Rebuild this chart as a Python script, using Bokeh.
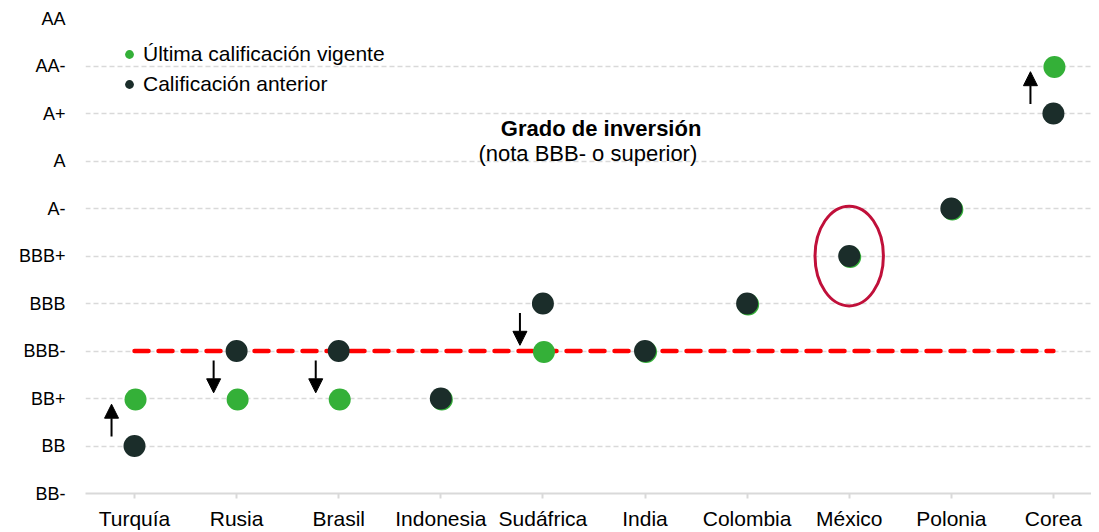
from bokeh.plotting import figure
from bokeh.models import (ColumnDataSource, FixedTicker, Legend, LegendItem, Arrow,
                          NormalHead, Label, Range1d)
from bokeh.transform import dodge
from bokeh.embed import file_html
from bokeh.resources import INLINE

# ---------------- data ----------------
paises = ["Turquía", "Rusia", "Brasil", "Indonesia", "Sudáfrica",
          "India", "Colombia", "México", "Polonia", "Corea"]
escala = ["BB-", "BB", "BB+", "BBB-", "BBB", "BBB+", "A-", "A", "A+", "AA-", "AA"]
ultima = ["BB+", "BB+", "BB+", "BB+", "BBB-", "BBB-", "BBB", "BBB+", "A-", "AA-"]
anterior = ["BB", "BBB-", "BBB-", "BB+", "BBB", "BBB-", "BBB", "BBB+", "A-", "A+"]
grado_inversion = "BBB-"
destacado = "México"
titulo_nota = "Grado de inversión"
subtitulo_nota = "(nota BBB- o superior)"

FONT = "Liberation Sans"
VERDE = "#34b038"
OSCURO = "#1b2d2a"

xi = list(range(len(paises)))
y_ult = [escala.index(v) for v in ultima]
y_ant = [escala.index(v) for v in anterior]

src = ColumnDataSource(dict(x=xi, ult=y_ult, ant=y_ant, pais=paises))

p = figure(width=1091, height=532, output_backend="svg", toolbar_location=None,
           x_range=Range1d(-0.48, 9.373), y_range=Range1d(0, len(escala) - 1),
           min_border_left=85, min_border_right=0, min_border_top=18, min_border_bottom=38)
p.outline_line_color = None
p.background_fill_color = "white"
p.border_fill_color = "white"

# axes
p.xaxis.ticker = FixedTicker(ticks=xi)
p.xaxis.major_label_overrides = {i: n for i, n in enumerate(paises)}
p.xaxis.axis_line_color = "#d9d9d9"
p.xaxis.axis_line_width = 2
p.xaxis.major_tick_line_color = "#d9d9d9"
p.xaxis.major_tick_line_width = 2
p.xaxis.major_tick_in = 0
p.xaxis.major_tick_out = 5
p.xaxis.minor_tick_line_color = None
p.xaxis.major_label_standoff = 8
p.xaxis.major_label_text_font = FONT
p.xaxis.major_label_text_font_size = "21px"
p.xaxis.major_label_text_color = "#000000"

p.yaxis.ticker = FixedTicker(ticks=list(range(len(escala))))
p.yaxis.major_label_overrides = {i: n for i, n in enumerate(escala)}
p.yaxis.axis_line_color = None
p.yaxis.major_tick_line_color = None
p.yaxis.minor_tick_line_color = None
p.yaxis.major_label_standoff = 14
p.yaxis.major_label_text_font = FONT
p.yaxis.major_label_text_font_size = "18px"
p.yaxis.major_label_text_color = "#000000"

p.xgrid.grid_line_color = None
p.ygrid.ticker = FixedTicker(ticks=list(range(1, len(escala))))
p.ygrid.grid_line_color = "#d9d9d9"
p.ygrid.grid_line_width = 1.5
p.ygrid.grid_line_dash = "5 3"

# investment grade threshold line
g = escala.index(grado_inversion)
p.line(x=[xi[0], xi[-1]], y=[g, g], line_color="#ff0000", line_width=4.5,
       line_dash="14 10", line_cap="round")

# points
r_ult = p.scatter(x=dodge("x", 0.01, range=p.x_range), y=dodge("ult", -0.02, range=p.y_range),
                  source=src, size=22, fill_color=VERDE, line_color=None)
r_ant = p.scatter(x="x", y="ant", source=src, size=22, fill_color=OSCURO, line_color=None)

# arrows for changes
ax, ays, aye = [], [], []
for i, (a, u) in enumerate(zip(y_ant, y_ult)):
    if a != u:
        d = 1 if u > a else -1
        ax.append(i - 0.225)
        ays.append(a + 0.2 * d)
        aye.append(u - 0.12 * d)
asrc = ColumnDataSource(dict(x=ax, ys=ays, ye=aye))
p.add_layout(Arrow(end=NormalHead(size=14, fill_color="black", line_color="black", line_width=1),
                   x_start="x", y_start="ys", x_end="x", y_end="ye", source=asrc,
                   line_color="black", line_width=2))

# highlight ellipse
k = paises.index(destacado)
p.ellipse(x=[k], y=[y_ant[k]], width=0.67, height=2.1, fill_color=None,
          line_color="#c0103a", line_width=3)

# annotation
p.add_layout(Label(x=4.57, y=7.69, text=titulo_nota, text_font=FONT, text_font_size="22px",
                   text_font_style="bold", text_align="center", text_baseline="middle",
                   text_color="#000000"))
p.add_layout(Label(x=4.44, y=7.16, text=subtitulo_nota, text_font=FONT, text_font_size="22px",
                   text_align="center", text_baseline="middle", text_color="#000000"))

# legend
legend = Legend(items=[LegendItem(label="Última calificación vigente", renderers=[r_ult]),
                       LegendItem(label="Calificación anterior", renderers=[r_ant])],
                location=(33, 397), orientation="vertical",
                glyph_width=22, glyph_height=24, spacing=6, padding=0, margin=0,
                label_standoff=3, label_text_font=FONT, label_text_font_size="21px",
                label_text_color="#000000", border_line_color=None,
                background_fill_alpha=0)
p.add_layout(legend)

open("out.html", "w").write(file_html(p, INLINE))
